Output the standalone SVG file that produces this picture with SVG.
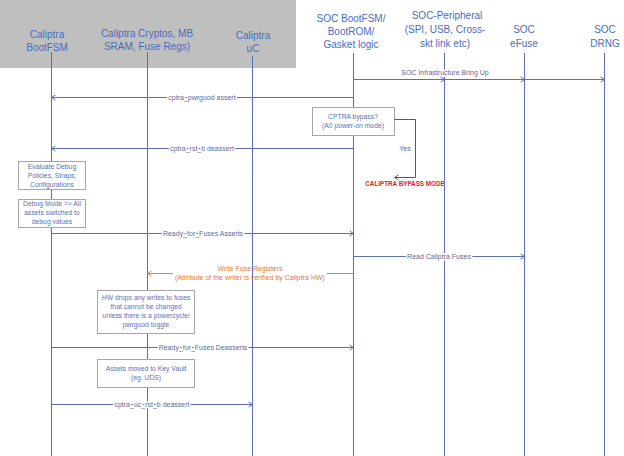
<svg xmlns="http://www.w3.org/2000/svg" width="624" height="456" viewBox="0 0 624 456">
<style>
.hdr{font-family:"Liberation Sans",Arial,sans-serif;font-size:10px;fill:#4a6cc0;text-anchor:middle}
.life{stroke:#5b6fb8;stroke-width:1;fill:none}
.msg{stroke:#5b6fb8;stroke-width:1;fill:none}
.lbl{font-family:"Liberation Sans",Arial,sans-serif;font-size:7px;fill:#5a6aa0;text-anchor:middle;stroke:#fff;stroke-width:3;paint-order:stroke;stroke-linejoin:round}
.box{fill:#fff;stroke:#a6a6a6;stroke-width:1}
.btxt{font-family:"Liberation Sans",Arial,sans-serif;font-size:6.8px;fill:#5a72b8;text-anchor:middle}
.orange{stroke:#ed7d31;stroke-width:1;fill:none}
.olbl{font-family:"Liberation Sans",Arial,sans-serif;font-size:7px;fill:#e07a3c;text-anchor:middle}
</style>
<defs>
<marker id="arr" viewBox="0 0 8 8" refX="7" refY="4" markerWidth="8" markerHeight="8" markerUnits="userSpaceOnUse" orient="auto">
<polyline points="3,1.5 7,4 3,6.5" fill="none" stroke="#5b6fb8" stroke-width="1"/>
</marker>
<marker id="arrO" viewBox="0 0 8 8" refX="7" refY="4" markerWidth="8" markerHeight="8" markerUnits="userSpaceOnUse" orient="auto">
<polyline points="3,1.5 7,4 3,6.5" fill="none" stroke="#ed7d31" stroke-width="1"/>
</marker>
<marker id="arrG" viewBox="0 0 8 8" refX="7" refY="4" markerWidth="8" markerHeight="8" markerUnits="userSpaceOnUse" orient="auto">
<polyline points="3,1.5 7,4 3,6.5" fill="none" stroke="#595959" stroke-width="1"/>
</marker>
</defs>
<rect x="0" y="0" width="624" height="456" fill="#fff"/>
<rect x="0" y="0" width="296" height="68" fill="#bfbfbf"/>

<g id="caliptra-bootfsm">
<text class="hdr" x="47" y="38">Caliptra</text>
<text class="hdr" x="47" y="51">BootFSM</text>
<line class="life" x1="51.5" y1="52" x2="51.5" y2="456"/>
</g>
<g id="caliptra-cryptos">
<text class="hdr" x="147" y="37">Caliptra Cryptos, MB</text>
<text class="hdr" x="147" y="50">SRAM, Fuse Regs)</text>
<line class="life" x1="147.5" y1="52" x2="147.5" y2="456"/>
</g>
<g id="caliptra-uc">
<text class="hdr" x="253" y="39">Caliptra</text>
<text class="hdr" x="253" y="52">uC</text>
<line class="life" x1="252.5" y1="56" x2="252.5" y2="456"/>
</g>
<g id="soc-bootfsm">
<text class="hdr" x="351" y="22">SOC BootFSM/</text>
<text class="hdr" x="351" y="35">BootROM/</text>
<text class="hdr" x="351" y="48">Gasket logic</text>
<line class="life" x1="353.5" y1="53" x2="353.5" y2="456"/>
</g>
<g id="soc-peripheral">
<text class="hdr" x="447" y="19">SOC-Peripheral</text>
<text class="hdr" x="445" y="33">(SPI, USB, Cross-</text>
<text class="hdr" x="445" y="47">skt link etc)</text>
<line class="life" x1="444.5" y1="53" x2="444.5" y2="456"/>
</g>
<g id="soc-efuse">
<text class="hdr" x="524" y="33">SOC</text>
<text class="hdr" x="524" y="47">eFuse</text>
<line class="life" x1="524.5" y1="53" x2="524.5" y2="456"/>
</g>
<g id="soc-drng">
<text class="hdr" x="605" y="33">SOC</text>
<text class="hdr" x="605" y="47">DRNG</text>
<line class="life" x1="604.5" y1="53" x2="604.5" y2="456"/>
</g>

<g id="box-bypass">
<rect class="box" x="312.5" y="107.5" width="82" height="28"/>
<text class="btxt" x="353" y="119">CPTRA bypass?</text>
<text class="btxt" x="353" y="128">(A0 power-on mode)</text>
</g>
<g id="box-evaluate">
<rect class="box" x="18.5" y="161.5" width="67" height="28"/>
<text class="btxt" x="52" y="169">Evaluate Debug</text>
<text class="btxt" x="52" y="178">Policies, Straps,</text>
<text class="btxt" x="52" y="187">Configurations</text>
</g>
<g id="box-debug">
<rect class="box" x="18.5" y="199.5" width="67" height="28"/>
<text class="btxt" x="52" y="206">Debug Mode =&gt; All</text>
<text class="btxt" x="52" y="215">assets switched to</text>
<text class="btxt" x="52" y="224">debug values</text>
</g>
<g id="box-hwdrops">
<rect class="box" x="97.5" y="290.5" width="97" height="43"/>
<text class="btxt" x="146" y="300">HW drops any writes to fuses</text>
<text class="btxt" x="146" y="309">that cannot be changed</text>
<text class="btxt" x="146" y="318">unless there is a powercycle/</text>
<text class="btxt" x="146" y="327">pwrgood toggle</text>
</g>
<g id="box-assets">
<rect class="box" x="97.5" y="359.5" width="97" height="28"/>
<text class="btxt" x="146" y="371">Assets moved to Key Vault</text>
<text class="btxt" x="146" y="380">(eg. UDS)</text>
</g>
<g id="bypass-mode">
<text x="405" y="185.5" font-family="'Liberation Sans',Arial,sans-serif" font-size="6.3" font-weight="bold" fill="#e01b24" text-anchor="middle">CALIPTRA BYPASS MODE</text>
</g>

<g id="connectors">
<line class="msg" x1="353.5" y1="79.5" x2="444.5" y2="79.5" marker-end="url(#arr)"/>
<line class="msg" x1="444.5" y1="79.5" x2="524.5" y2="79.5" marker-end="url(#arr)"/>
<line class="msg" x1="524.5" y1="79.5" x2="604.5" y2="79.5" marker-end="url(#arr)"/>
<text class="lbl" x="445" y="75">SOC Infrastructure Bring Up</text>

<line class="msg" x1="353.5" y1="97.5" x2="51.5" y2="97.5" marker-end="url(#arr)"/>
<text class="lbl" x="202" y="100">cptra_pwrgood assert</text>

<line class="msg" x1="353.5" y1="148.5" x2="51.5" y2="148.5" marker-end="url(#arr)"/>
<text class="lbl" x="202" y="151">cptra_rst_b deassert</text>

<polyline points="394.5,119.5 415.5,119.5 415.5,177.5 394.5,177.5" fill="none" stroke="#595959" stroke-width="1" marker-end="url(#arrG)"/>
<text x="405" y="151" font-family="'Liberation Sans',Arial,sans-serif" font-size="7" fill="#5a6aa0" text-anchor="middle">Yes</text>

<line class="msg" x1="51.5" y1="233.5" x2="353.5" y2="233.5" marker-end="url(#arr)"/>
<text class="lbl" x="203" y="236">Ready_for_Fuses Asserts</text>

<line class="msg" x1="353.5" y1="256.5" x2="524.5" y2="256.5" marker-end="url(#arr)"/>
<text class="lbl" x="439" y="259">Read Caliptra Fuses</text>

<line class="orange" x1="353.5" y1="273.5" x2="327" y2="273.5"/>
<line class="orange" x1="173" y1="273.5" x2="147.5" y2="273.5" marker-end="url(#arrO)"/>
<text class="olbl" x="250" y="271">Write Fuse Registers</text>
<text class="olbl" x="250" y="280">(Attribute of the writer is verified by Caliptra HW)</text>

<line class="msg" x1="51.5" y1="347.5" x2="353.5" y2="347.5" marker-end="url(#arr)"/>
<text class="lbl" x="203" y="350">Ready_for_Fuses Deasserts</text>

<line class="msg" x1="51.5" y1="404.5" x2="252.5" y2="404.5" marker-end="url(#arr)"/>
<text class="lbl" x="152" y="407">cptra_uc_rst_b deassert</text>
</g>
</svg>
